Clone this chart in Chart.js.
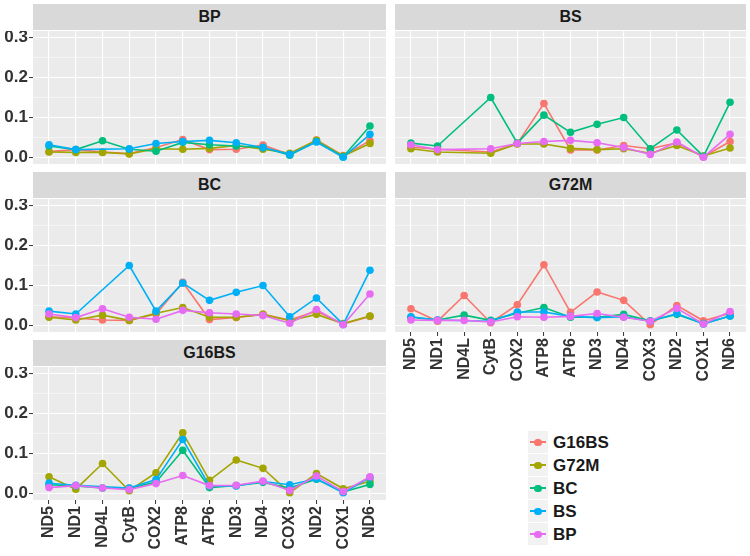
<!DOCTYPE html>
<html>
<head>
<meta charset="utf-8">
<script src="https://cdn.jsdelivr.net/npm/chart.js@4.4.1/dist/chart.umd.min.js"></script>
<style>
  body { margin: 0; width: 750px; height: 556px; position: relative; overflow: hidden; background: #fff;
         font-family: "Liberation Sans", Arial, sans-serif; }
  canvas { position: absolute; }
  .strip { position: absolute; background: #d9d9d9; color: #1a1a1a; font-weight: bold; font-size: 16px;
           text-align: center; }
  .legend { position: absolute; left: 528px; top: 431px; }
  .row { height: 23px; display: flex; align-items: center; }
  .key { position: relative; width: 20px; height: 22px; background: #f2f2f2; margin-bottom: 1px; }
  .key .ln { position: absolute; left: 2px; width: 16px; top: 10px; height: 1.6px; }
  .key .pt { position: absolute; left: 6px; top: 7.5px; width: 7.5px; height: 7.5px; border-radius: 50%; }
  .lab { margin-left: 5px; font-weight: bold; font-size: 17px; color: #1a1a1a; }
</style>
</head>
<body>
<div class="legend" id="legend"></div>
<script>
const genes = ["ND5", "ND1", "ND4L", "CytB", "COX2", "ATP8", "ATP6", "ND3", "ND4", "COX3", "ND2", "COX1", "ND6"];
const groups = ["G16BS", "G72M", "BC", "BS", "BP"];
const yTickLabels = ["0.0", "0.1", "0.2", "0.3"];

// pairwise values in gene order (BS has no ND4L value)
const bpBs       = [0.032, 0.020, null, 0.022, 0.035, 0.040, 0.043, 0.037, 0.025, 0.008, 0.039, 0.001, 0.058];
const bpBc       = [0.029, 0.020, 0.042, 0.021, 0.016, 0.038, 0.032, 0.029, 0.025, 0.006, 0.040, 0.002, 0.079];
const bpG16bs    = [0.015, 0.020, 0.014, 0.010, 0.025, 0.045, 0.020, 0.021, 0.031, 0.008, 0.044, 0.005, 0.042];
const bpG72m     = [0.014, 0.013, 0.013, 0.009, 0.022, 0.021, 0.023, 0.030, 0.021, 0.011, 0.043, 0.004, 0.035];
const bsBc       = [0.036, 0.029, null, 0.150, 0.036, 0.106, 0.063, 0.083, 0.100, 0.022, 0.069, 0.003, 0.138];
const bsG16bs    = [0.026, 0.021, null, 0.014, 0.035, 0.135, 0.019, 0.019, 0.030, 0.022, 0.037, 0.002, 0.040];
const bsG72m     = [0.022, 0.014, null, 0.011, 0.034, 0.034, 0.023, 0.020, 0.022, 0.011, 0.030, 0.004, 0.024];
const bcG16bs    = [0.022, 0.019, 0.014, 0.013, 0.029, 0.108, 0.015, 0.020, 0.028, 0.014, 0.036, 0.004, 0.023];
const bcG72m     = [0.021, 0.014, 0.026, 0.013, 0.031, 0.045, 0.021, 0.021, 0.028, 0.012, 0.028, 0.005, 0.024];
const g16bsG72m  = [0.042, 0.011, 0.075, 0.007, 0.052, 0.152, 0.033, 0.084, 0.063, 0.002, 0.050, 0.012, 0.031];

const pairs = {
  "BP|BS": bpBs, "BP|BC": bpBc, "BP|G16BS": bpG16bs, "BP|G72M": bpG72m,
  "BS|BC": bsBc, "BS|G16BS": bsG16bs, "BS|G72M": bsG72m,
  "BC|G16BS": bcG16bs, "BC|G72M": bcG72m, "G16BS|G72M": g16bsG72m
};
function pairValues(a, b) { return pairs[a + "|" + b] || pairs[b + "|" + a]; }

const colours = ["#F8766D", "#A3A500", "#00BF7D", "#00B0F6", "#E76BF3"];

const panels = [
  { name: "BP",    left: 33,  top: 31,  width: 353, showX: false, showY: true },
  { name: "BS",    left: 395, top: 31,  width: 351, showX: false, showY: false },
  { name: "BC",    left: 33,  top: 199, width: 353, showX: false, showY: true },
  { name: "G72M",  left: 395, top: 199, width: 351, showX: true,  showY: false },
  { name: "G16BS", left: 33,  top: 367, width: 353, showX: true,  showY: true },
];
const panelH = 133, stripH = 27, xAxisH = 56;
const textCol = "#333333";
const font = { family: "'Liberation Sans', Arial, sans-serif", size: 16, weight: "bold" };
const yFont = { family: "'Liberation Sans', Arial, sans-serif", size: 17, weight: "bold" };

const panelBg = {
  id: "panelBg",
  beforeDraw(chart) {
    const a = chart.chartArea, c = chart.ctx;
    c.save();
    c.fillStyle = "#ebebeb";
    c.fillRect(a.left, a.top, a.right - a.left, a.bottom - a.top);
    c.restore();
  }
};

const isMajor = v => Math.round(v * 20) % 2 === 0;
const noPad = s => { s.paddingTop = 0; s.paddingBottom = 0; s.paddingLeft = 0; s.paddingRight = 0; };

panels.forEach(p => {
  const strip = document.createElement("div");
  strip.className = "strip";
  strip.style.left = p.left + "px";
  strip.style.top = (p.top - stripH) + "px";
  strip.style.width = p.width + "px";
  strip.style.height = (stripH - 1) + "px";
  strip.style.lineHeight = (stripH - 1) + "px";
  strip.textContent = p.name;
  document.body.appendChild(strip);

  const axisW = p.showY ? 33 : 3;
  const w = p.width + axisW;
  const h = panelH + (p.showX ? xAxisH : 0);
  const cv = document.createElement("canvas");
  cv.width = w; cv.height = h;
  cv.style.left = (p.left - axisW) + "px";
  cv.style.top = p.top + "px";
  cv.style.width = w + "px"; cv.style.height = h + "px";
  document.body.appendChild(cv);

  const datasets = [];
  groups.forEach((g, gi) => {
    if (g === p.name) return;
    const vals = pairValues(p.name, g);
    datasets.push({
      label: g,
      data: vals.map((v, i) => ({ x: i, y: v })),
      borderColor: colours[gi],
      backgroundColor: colours[gi],
      borderWidth: 1.6,
      pointRadius: 3.8,
      pointBorderWidth: 0,
      spanGaps: true,
      order: groups.length - gi
    });
  });

  new Chart(cv, {
    type: "line",
    data: { datasets },
    plugins: [panelBg],
    options: {
      responsive: false,
      animation: false,
      layout: { padding: 0, autoPadding: false },
      plugins: { legend: { display: false }, tooltip: { enabled: false } },
      scales: {
        x: {
          type: "linear", min: -0.6, max: 12.6,
          border: { display: false },
          grid: { color: "#ffffff", lineWidth: 1.1, drawTicks: true, tickLength: 4,
                  tickColor: p.showX ? textCol : "rgba(0,0,0,0)", tickWidth: 1 },
          ticks: {
            stepSize: 1, includeBounds: false, autoSkip: false,
            minRotation: 90, maxRotation: 90, padding: 2,
            color: p.showX ? textCol : "rgba(0,0,0,0)", font,
            callback: v => genes[Math.round(v)]
          },
          afterFit: s => { noPad(s); s.height = p.showX ? xAxisH : 0; }
        },
        y: {
          min: -0.016, max: 0.316,
          border: { display: false },
          grid: {
            color: "#ffffff",
            lineWidth: c => isMajor(c.tick.value) ? 1.1 : 0.5,
            drawTicks: true, tickLength: 4, tickWidth: 1,
            tickColor: c => (p.showY && isMajor(c.tick.value)) ? textCol : "rgba(0,0,0,0)"
          },
          ticks: {
            stepSize: 0.05, includeBounds: false, autoSkip: false,
            padding: 1, color: p.showY ? textCol : "rgba(0,0,0,0)", font: yFont,
            callback: v => { const k = Math.round(v * 20); return k % 2 === 0 ? yTickLabels[k / 2] : ""; }
          },
          afterFit: s => { noPad(s); s.width = axisW; }
        }
      }
    }
  });
});

const legend = document.getElementById("legend");
groups.forEach((g, gi) => {
  const row = document.createElement("div");
  row.className = "row";
  row.innerHTML = `<div class="key"><div class="ln" style="background:${colours[gi]}"></div>` +
    `<div class="pt" style="background:${colours[gi]}"></div></div><span class="lab">${g}</span>`;
  legend.appendChild(row);
});
</script>
</body>
</html>
